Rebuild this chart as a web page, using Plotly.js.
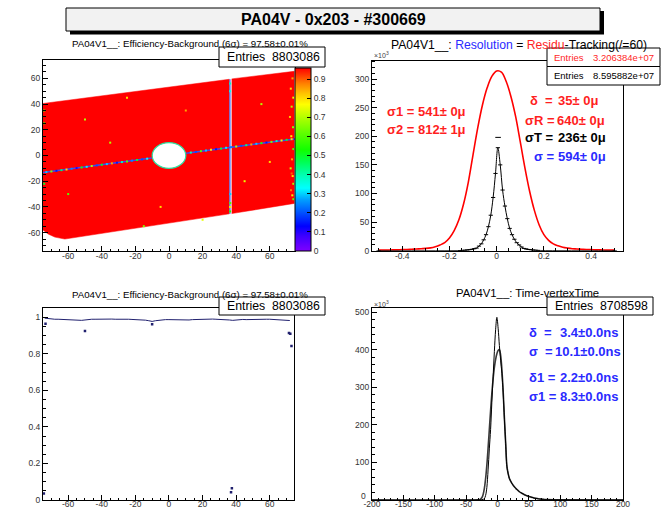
<!DOCTYPE html>
<html><head><meta charset="utf-8">
<script src="https://cdn.plot.ly/plotly-3.0.1.min.js"></script>
<style>html,body{margin:0;padding:0;background:#fff;}</style>
</head><body><div id="chart" style="width:664px;height:508px;"></div>
<script>
// ---------------- DATA ----------------
// Panel 1: efficiency map (geometry of the filled region)
const regionLeftX = [-76, 35.9, 35.9, -40, -62, -68, -72, -76];
const regionLeftY = [40.3, 59.3, -45.4, -60.6, -65, -63.5, -61, -57];
const regionRightX = [37.3, 74.5, 74.5, 37.3];
const regionRightY = [59.6, 65.5, -37.3, -45.2];
const holeCenter = [0, 0];
const holeRadius = 10;
const trackX = [-75, -10.3, null, 10.3, 75];
const trackY = [-13.2, -2.0, null, 1.8, 12.9];
const stripeX = [36.3, 36.3];
const stripeY = [-45.4, 59.3];
const trackPtX = [-73,-70,-67,-64,-61,-58,-55,-52,-49,-46,-43,-40,-37,-34,-31,-28,-25,-22,-19,-16,-13,
                  13,16,19,22,25,28,31,34,37,40,43,46,49,52,55,58,61,64,67,70,73];
const trackPtY = [-12.9,-12.4,-11.9,-11.4,-10.9,-10.3,-9.8,-9.3,-8.8,-8.2,-7.7,-7.2,-6.7,-6.1,-5.6,-5.1,-4.6,-4.0,-3.5,-3.0,-2.5,
                  2.3,2.8,3.4,3.9,4.4,4.9,5.4,6.0,6.5,7.0,7.5,8.0,8.6,9.1,9.6,10.1,10.6,11.2,11.7,12.2,12.7];
const trackPtV = [0.3,0.65,0.15,0.45,0.8,0.25,0.1,0.55,0.35,0.7,0.2,0.5,0.3,0.85,0.15,0.4,0.6,0.25,0.5,0.2,0.35,
                  0.4,0.2,0.6,0.3,0.8,0.15,0.5,0.35,0.25,0.7,0.2,0.45,0.85,0.3,0.55,0.15,0.65,0.4,0.75,0.5,0.8];
const stripePtX = [36.4,36.4,36.5,36.5,36.4,36.4];
const stripePtY = [56,50,-30,-37,-40,-43.5];
const stripePtV = [0.4,0.35,0.3,0.6,0.75,0.55];
const edgePtX = [73.5,72.5,74,73,72,73.8,72.8,74,73.2,72.4,73.6,74,72.6,73.4,74,73];
const edgePtY = [60,52,45,38,30,22,15,5,-3,-10,-16,-22,-27,-31,-34,-14];
const edgePtV = [0.85,0.8,0.75,0.7,0.82,0.65,0.78,0.6,0.85,0.72,0.8,0.68,0.88,0.75,0.62,0.9];
const innerPtX = [-74.3,-74.3,-74.3,-50,-25,-60,20,55,-5,45,-35,10,60,-15];
const innerPtY = [35,25,-22,28,45,-30,-50,40,-40,-20,10,35,-5,-55];
const innerPtV = [0.6,0.55,0.5,0.7,0.8,0.6,0.75,0.7,0.8,0.75,0.7,0.85,0.8,0.65];
const cbTickVals = [0,0.1,0.2,0.3,0.4,0.5,0.6,0.7,0.8,0.9];
const cbTickText = ['0','0.1','0.2','0.3','0.4','0.5','0.6','0.7','0.8','0.9'];
const colorStopV = [0,0.08,0.13,0.2,0.27,0.33,0.4,0.47,0.53,0.62,0.7,0.77,0.83,0.88,0.93,0.96];
const colorStopC = ['#7f00ff','#3c00ff','#0000ff','#0050ff','#00a0ff','#00ffff','#00ffb0','#00ff50','#10ff00','#60ff00','#b0ff00','#ffff00','#ffc000','#ff8000','#ff3000','#ff0000'];

// Panel 2: resolution (x in cm, counts in 10^3)
const resX = [-0.50,-0.48,-0.46,-0.44,-0.42,-0.40,-0.38,-0.36,-0.34,-0.32,-0.30,-0.28,-0.26,-0.24,-0.22,-0.20,-0.18,-0.16,-0.14,-0.12,-0.10,-0.08,-0.06,-0.04,-0.02,
              0.00,0.02,0.04,0.06,0.08,0.10,0.12,0.14,0.16,0.18,0.20,0.22,0.24,0.26,0.28,0.30,0.32,0.34,0.36,0.38,0.40,0.42,0.44,0.46,0.48,0.50];
const resRed = [1,1,1,1.5,1.5,2,2,2.5,3,3.5,4,5,7,10,14,22,35,54,82,120,168,215,255,285,305,
                314,312,296,270,235,190,144,103,70,45,28,18,12,8.5,6,4.5,3.5,3,2.5,2,2,1.5,1.5,1,1,1];
const resBX = [-0.5,-0.155,-0.145,-0.135,-0.125,-0.115,-0.105,-0.095,-0.085,-0.075,-0.065,-0.055,-0.045,-0.035,-0.025,-0.015,-0.005,
               0.005,0.015,0.025,0.035,0.045,0.055,0.065,0.075,0.085,0.095,0.105,0.115,0.125,0.135,0.145,0.155,0.165,0.175,0.5];
const resBlack = [0,0.3,0.5,0.8,1.2,1.7,2.5,3.4,4.5,8,12,19,28,42,62,93,135,
                  180,150,106,78,56,39,28,20,14,10,6.5,4,3,2.2,1.6,1.1,0.8,0.5,0];
const resDotX = [0.006];
const resDotY = [198];
const p2XTicks = [-0.4,-0.2,0,0.2,0.4];
const p2XLabels = ['-0.4','-0.2','0','0.2','0.4'];
const p2YTicks = [0,50,100,150,200,250,300];
const p2YLabels = ['0','50','100','150','200','250','300'];

// Panel 3: efficiency profile
const effX = [-74,-72,-70,-68,-66,-64,-62,-60,-58,-56,-54,-52,-50,-48,-46,-44,-42,-40,-38,-36,-34,-32,-30,-28,-26,-24,-22,-20,-18,-16,-14,-12,-10,-8,-6,-4,-2,
              0,2,4,6,8,10,12,14,16,18,20,22,24,26,28,30,32,34,36,38,40,42,44,46,48,50,52,54,56,58,60,62,64,66,68,70,72];
const effV = [0.996,0.993,0.991,0.99,0.99,0.989,0.99,0.989,0.988,0.987,0.985,0.984,0.986,0.989,0.99,0.99,0.991,0.99,0.99,0.991,0.991,0.99,0.991,0.991,0.99,0.99,0.989,0.989,0.988,0.987,0.985,0.982,0.978,0.982,0.985,0.987,0.988,
              0.988,0.987,0.987,0.986,0.984,0.983,0.986,0.988,0.989,0.99,0.991,0.99,0.991,0.991,0.99,0.99,0.99,0.989,0.986,0.984,0.987,0.989,0.989,0.988,0.989,0.989,0.988,0.989,0.99,0.99,0.99,0.989,0.988,0.986,0.985,0.984,0.983];
const effOutX = [-73.5,-74.5,-50,-10,37,37.5,71.5,72.3,73];
const effOutV = [0.965,0.035,0.925,0.962,0.042,0.064,0.915,0.91,0.843];

// Panel 4: time - vertex time (ns, counts in 10^3)
const timeX = [-200,-31,-29,-27,-25,-23,-21,-19,-17,-15,-13,-11,-9,-7,-5,-3,-1,1,3,5,7,9,11,13,15,17,19,21,23,25,27,29,31,33,35,37,39,41,43,45,47,49,
               51,53,55,57,59,61,63,65,67,69,71,73,75,77,79,90,100,200];
const timeNarrow = [0,0,0,0.3,0.8,1.5,3.5,12,33,80,136,188,260,328,395,453,486,457,411,372,337,285,215,150,89,70,57,50,44,39,35,31,28,25,22,19.5,18,16,14,12.5,11,10,
                    9,8,7,6,5,4.5,4,3.3,2.8,2.4,2,1.7,1.4,1.2,1,0.5,0.2,0];
const timeWide = [0,0.3,0.8,2.5,6,14,30,56,92,138,188,238,284,322,352,374,389,398,400,385,347,290,218,152,90,70,57,50,44,39,35,31,28,25,22,19.5,18,16,14,12.5,11,10,
                  9,8,7,6,5,4.5,4,3.3,2.8,2.4,2,1.7,1.4,1.2,1,0.5,0.2,0];

const posTicks = [-60,-40,-20,0,20,40,60];
const posLabels = ['-60','-40','-20','0','20','40','60'];
const p3YTicks = [0,0.2,0.4,0.6,0.8,1];
const p3YLabels = ['0','0.2','0.4','0.6','0.8','1'];
const p4XTicks = [-200,-150,-100,-50,0,50,100,150,200];
const p4XLabels = ['-200','-150','-100','-50','0','50','100','150','200'];
const p4YTicks = [100,200,300,400,500];
const p4YLabels = ['100','200','300','400','500'];
const p4YZeroLabel = '0';

// ---------------- STYLE ----------------
const W = 664, H = 508;
const F = 'Liberation Sans, Arial, Helvetica, sans-serif';
const px = x => x / W;
const py = y => 1 - y / H;
const RED = '#ff1f1f', BLUE = '#2a2aff';
// colour bar: full scale spans 0..1 over the frame height; its visible part ends below the stat box
const cbTopPx = 67.7, cbBotPx = 250.7, cbFullPx = 190.4;
const cbMax = (cbBotPx - cbTopPx) / cbFullPx;
const colorscale = colorStopV.map((v, i) => [Math.min(v / cbMax, 1), colorStopC[i]]).filter(s => s[0] < 1);
colorscale.push([1, '#ff0000']);

const ptX = trackPtX.concat(stripePtX, edgePtX, innerPtX);
const ptY = trackPtY.concat(stripePtY, edgePtY, innerPtY);
const ptV = trackPtV.concat(stripePtV, edgePtV, innerPtV);

const data = [
  {x: regionLeftX, y: regionLeftY, xaxis:'x', yaxis:'y', mode:'lines', fill:'toself', fillcolor:'#ff0000', line:{width:0.5, color:'#ff0000'}},
  {x: regionRightX, y: regionRightY, xaxis:'x', yaxis:'y', mode:'lines', fill:'toself', fillcolor:'#ff0000', line:{width:0.5, color:'#ff0000'}},
  {x: stripeX, y: stripeY, xaxis:'x', yaxis:'y', mode:'lines', line:{width:1.2, color:'#3a6cff'}},
  {x: trackX, y: trackY, xaxis:'x', yaxis:'y', mode:'lines', line:{width:1.5, color:'#4048f0'}},
  {x: ptX, y: ptY, xaxis:'x', yaxis:'y', mode:'markers',
   marker:{symbol:'square', size:2, color: ptV, colorscale: colorscale, cmin:0, cmax:cbMax, showscale:true,
     colorbar:{x: px(295), xanchor:'left', xpad:0, y: py(cbBotPx), yanchor:'bottom', ypad:0,
       len: (cbBotPx - cbTopPx) / H, lenmode:'fraction', thickness:16, thicknessmode:'pixels',
       outlinewidth:1, outlinecolor:'#000', borderwidth:0,
       tickmode:'array', tickvals: cbTickVals, ticktext: cbTickText, ticks:'inside', ticklen:4, tickcolor:'#000',
       tickfont:{family:F, size:8.5, color:'#333'}}}},
  // panel 2
  {x: resX, y: resRed, xaxis:'x2', yaxis:'y2', mode:'lines', line:{width:1.6, color:'#ff0000', shape:'spline'}},
  {x: resBX, y: resBlack, xaxis:'x2', yaxis:'y2', mode:'lines+markers', line:{width:1, color:'#000', shape:'spline'},
   marker:{symbol:'line-ew', size:3, line:{width:1, color:'#000'}}},
  {x: resDotX, y: resDotY, xaxis:'x2', yaxis:'y2', mode:'markers', marker:{symbol:'line-ew', size:4, line:{width:1, color:'#000'}}},
  // panel 3
  {x: effX, y: effV, xaxis:'x3', yaxis:'y3', mode:'lines', line:{width:1, color:'#20206e'}},
  {x: effOutX, y: effOutV, xaxis:'x3', yaxis:'y3', mode:'markers', marker:{symbol:'square', size:2.5, color:'#20206e'}},
  // panel 4
  {x: timeX, y: timeWide, xaxis:'x4', yaxis:'y4', mode:'lines', line:{width:1.6, color:'#3a3a3a', shape:'spline'}},
  {x: timeX, y: timeNarrow, xaxis:'x4', yaxis:'y4', mode:'lines', line:{width:1, color:'#000', shape:'spline'}}
];

function axis(o) {
  return Object.assign({
    showline:true, mirror:true, linecolor:'#000', linewidth:1,
    ticks:'inside', ticklen:5, tickwidth:1, tickcolor:'#000',
    showgrid:false, zeroline:false, fixedrange:true, tickmode:'array',
    tickfont:{family:F, size:8.5, color:'#333'}
  }, o);
}
function minor(d) { return {tick0:0, dtick:d, ticks:'inside', ticklen:2.5, tickwidth:1, tickcolor:'#000', showgrid:false}; }

function txt(x, y, text, size, color, xanchor, bold) {
  return {xref:'paper', yref:'paper', x: px(x), y: py(y), xanchor: xanchor || 'center', yanchor:'middle',
    text: bold ? '<b>' + text + '</b>' : text, showarrow:false,
    font:{family:F, size:size, color:color || '#000'}};
}
function boxShape(l, t, r, b) {
  return {type:'rect', xref:'paper', yref:'paper', x0: px(l), x1: px(r), y0: py(b), y1: py(t),
    fillcolor:'#fff', line:{width:1, color:'#000'}};
}

const annotations = [
  txt(333, 19.5, 'PA04V - 0x203 - #300669', 16, '#000', 'center', true),
  txt(190, 44, 'PA04V1__: Efficiency-Background (6σ) = 97.58±0.01%', 9.7),
  txt(190, 294, 'PA04V1__: Efficiency-Background (6σ) = 97.58±0.01%', 9.7),
  txt(519, 44.7, 'PA04V1__: <span style="color:' + BLUE + '">Resolution</span> = <span style="color:' + RED + '">Residu</span>-Tracking(/=60)', 12.2),
  txt(527, 292.7, 'PA04V1__: Time-vertexTime', 11.3),
  txt(372, 55, '×10<sup>3</sup>', 7, '#444', 'left'),
  txt(372, 304, '×10<sup>3</sup>', 7, '#444', 'left'),
  txt(368, 496, p4YZeroLabel, 8.5, '#333', 'right'),
  // stat box texts
  txt(225, 57, 'Entries', 12.3, '#000', 'left'), txt(322, 57, '8803086', 12.3, '#000', 'right'),
  txt(225, 306, 'Entries', 12.3, '#000', 'left'), txt(322, 306, '8803086', 12.3, '#000', 'right'),
  txt(553, 306, 'Entries', 12.3, '#000', 'left'), txt(650, 306, '8708598', 12.3, '#000', 'right'),
  txt(552, 57.5, 'Entries', 9.5, RED, 'left'), txt(656, 57.5, '3.206384e+07', 9.5, RED, 'right'),
  txt(552, 75.5, 'Entries', 9.5, '#000', 'left'), txt(656, 75.5, '8.595882e+07', 9.5, '#000', 'right'),
  // fit results, panel 2
  txt(385, 111, 'σ1 = 541± 0μ', 13, RED, 'left', true),
  txt(385, 129, 'σ2 = 812± 1μ', 13, RED, 'left', true),
  txt(528, 101, 'δ  =', 13, RED, 'left', true), txt(600, 101, '35± 0μ', 13, RED, 'right', true),
  txt(523, 120, 'σR =', 13, RED, 'left', true), txt(607, 120, '640± 0μ', 13, RED, 'right', true),
  txt(523, 138, 'σT =', 13, '#000', 'left', true), txt(608, 138, '236± 0μ', 13, '#000', 'right', true),
  txt(532, 156, 'σ =', 13, BLUE, 'left', true), txt(608, 156, '594± 0μ', 13, BLUE, 'right', true),
  // fit results, panel 4
  txt(527, 332, 'δ  =', 13, BLUE, 'left', true), txt(620, 332, '3.4±0.0ns', 13, BLUE, 'right', true),
  txt(527, 351, 'σ  =', 13, BLUE, 'left', true), txt(623, 351, '10.1±0.0ns', 13, BLUE, 'right', true),
  txt(527, 377, 'δ1 =', 13, BLUE, 'left', true), txt(620, 377, '2.2±0.0ns', 13, BLUE, 'right', true),
  txt(527, 396, 'σ1 =', 13, BLUE, 'left', true), txt(620, 396, '8.3±0.0ns', 13, BLUE, 'right', true)
];

const shapes = [
  {type:'rect', xref:'paper', yref:'paper', x0: px(70), x1: px(604), y0: py(34.5), y1: py(11), fillcolor:'#000', line:{width:0}},
  {type:'rect', xref:'paper', yref:'paper', x0: px(66), x1: px(600), y0: py(31), y1: py(8), fillcolor:'#f2f2f2', line:{width:1, color:'#000'}},
  {type:'circle', xref:'x', yref:'y', x0: holeCenter[0] - holeRadius, x1: holeCenter[0] + holeRadius,
   y0: holeCenter[1] - holeRadius, y1: holeCenter[1] + holeRadius, fillcolor:'#fff', line:{width:1.2, color:'#30e0a0'}},
  boxShape(219, 47, 325, 67),
  boxShape(219, 297, 325, 315),
  boxShape(547, 297, 653, 315),
  boxShape(547, 48, 660, 66.5),
  boxShape(547, 66.5, 660, 85)
];

const layout = {
  width: W, height: H, margin:{l:0, r:0, t:0, b:0, pad:0},
  paper_bgcolor:'#fff', plot_bgcolor:'#fff', showlegend:false,
  font:{family:F, color:'#000'},
  xaxis: axis({domain:[px(43), px(295)], range:[-75, 75], anchor:'y', tickvals:posTicks, ticktext:posLabels, minor:minor(5), ticklabelstandoff:-3}),
  yaxis: axis({domain:[py(251), py(60)], range:[-74.3, 74.3], anchor:'x', tickvals:posTicks, ticktext:posLabels, minor:minor(5)}),
  xaxis2: axis({domain:[px(372), px(623)], range:[-0.528, 0.535], anchor:'y2', tickvals:p2XTicks, ticktext:p2XLabels, minor:minor(0.05), ticklabelstandoff:-3}),
  yaxis2: axis({domain:[py(250.7), py(60.7)], range:[0, 332], anchor:'x2', tickvals:p2YTicks, ticktext:p2YLabels, minor:minor(10)}),
  xaxis3: axis({domain:[px(43), px(294)], range:[-75, 74.5], anchor:'y3', tickvals:posTicks, ticktext:posLabels, minor:minor(5), ticklabelstandoff:-4}),
  yaxis3: axis({domain:[py(500), py(308.3)], range:[0, 1.05], anchor:'x3', tickvals:p3YTicks, ticktext:p3YLabels, minor:minor(0.05)}),
  xaxis4: axis({domain:[px(372), px(623)], range:[-200, 200], anchor:'y4', tickvals:p4XTicks, ticktext:p4XLabels, minor:minor(10), ticklabelstandoff:-4}),
  yaxis4: axis({domain:[py(500), py(308.3)], range:[0, 510], anchor:'x4', tickvals:p4YTicks, ticktext:p4YLabels, minor:minor(20)}),
  shapes: shapes,
  annotations: annotations
};

Plotly.newPlot('chart', data, layout, {staticPlot:true, displayModeBar:false});
</script></body></html>
